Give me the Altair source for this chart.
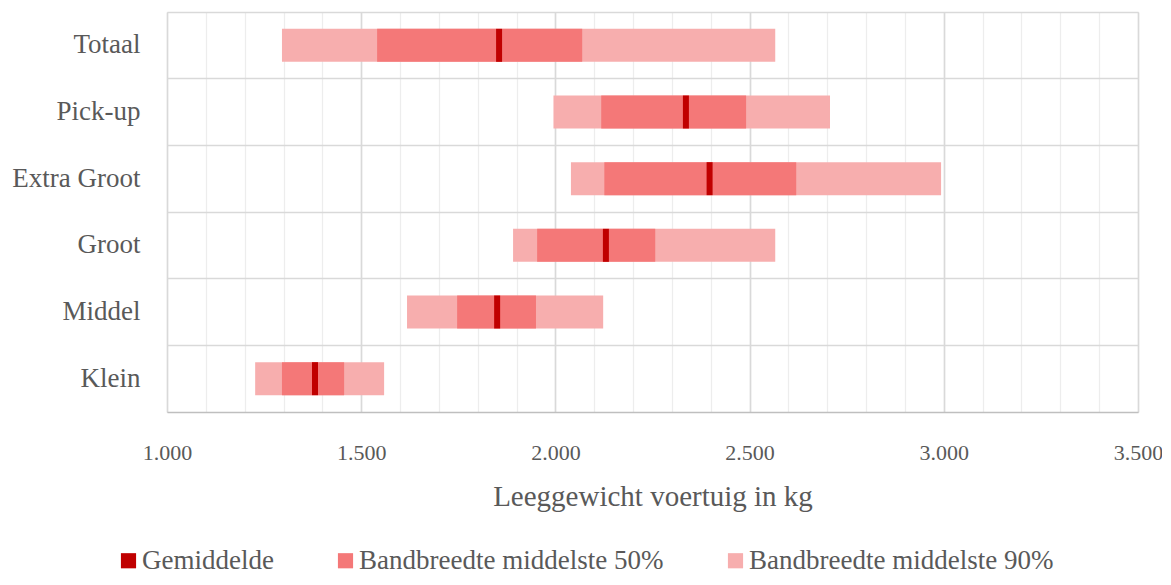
import altair as alt
import pandas as pd

categories = ["Totaal", "Pick-up", "Extra Groot", "Groot", "Middel", "Klein"]
low90 = [1296, 1995, 2040, 1891, 1618, 1227]
high90 = [2566, 2707, 2993, 2566, 2123, 1559]
low50 = [1541, 2118, 2126, 1953, 1747, 1296]
high50 = [2069, 2491, 2620, 2257, 1950, 1456]
mean = [1855, 2336, 2397, 2130, 1850, 1381]

series_names = ["Gemiddelde", "Bandbreedte middelste 50%", "Bandbreedte middelste 90%"]
series_colors = ["#C00000", "#F47878", "#F7AEAE"]
major_ticks = [1000, 1500, 2000, 2500, 3000, 3500]
minor_ticks = list(range(1000, 3600, 100))

df = pd.DataFrame({
    "cat": categories, "low90": low90, "high90": high90,
    "low50": low50, "high50": high50, "mean": mean,
})

FONT = "Liberation Serif"
TXT = "#595959"

xscale = alt.Scale(domain=[1000, 3500], nice=False, zero=False)
color_scale = alt.Scale(domain=series_names, range=series_colors)
legend = alt.Legend(
    title=None, orient="none", direction="horizontal", legendX=-52, legendY=535,
    symbolType="square", symbolSize=230, labelFontSize=27, labelFont=FONT,
    labelColor=TXT, columnPadding=58, labelOffset=0, symbolStrokeWidth=0,
    labelLimit=400,
)

yenc = alt.Y("cat:N", sort=categories, scale=alt.Scale(paddingInner=0, paddingOuter=0),
             axis=alt.Axis(title=None, grid=True, bandPosition=0, gridColor="#D9D9D9",
                           gridWidth=1.5, domain=False, ticks=False, labelFontSize=27,
                           labelFont=FONT, labelColor=TXT, labelPadding=27))

base = alt.Chart(df)

bar90 = base.transform_calculate(series="'Bandbreedte middelste 90%'").mark_bar(size=33).encode(
    y=yenc,
    x=alt.X("low90:Q", scale=xscale,
            axis=alt.Axis(values=minor_ticks, orient="bottom", grid=True, gridColor="#EDEDED",
                          gridWidth=1.3, labels=False, ticks=False, domain=False, title="")),
    x2="high90:Q",
    color=alt.Color("series:N", scale=color_scale, legend=legend),
)

bar50 = base.transform_calculate(series="'Bandbreedte middelste 50%'").mark_bar(size=33).encode(
    y=yenc,
    x=alt.X("low50:Q", scale=xscale,
            axis=alt.Axis(values=major_ticks, orient="bottom", grid=True, gridColor="#D9D9D9",
                          gridWidth=1.6, domain=True, domainColor="#BFBFBF", domainWidth=1.5,
                          ticks=False, format=",.0f", labelFontSize=22, labelFont=FONT,
                          labelColor=TXT, labelPadding=30, labelFlush=False,
                          title="Leeggewicht voertuig in kg",
                          titleFontSize=29, titleFont=FONT, titleColor=TXT,
                          titleFontWeight="normal", titlePadding=19)),
    x2="high50:Q",
    color=alt.Color("series:N", scale=color_scale, legend=legend),
)

tick = base.transform_calculate(series="'Gemiddelde'").mark_tick(thickness=6, size=33, opacity=1).encode(
    y=yenc,
    x=alt.X("mean:Q", scale=xscale, axis=None),
    color=alt.Color("series:N", scale=color_scale, legend=legend),
)

chart = alt.layer(bar90, bar50, tick).resolve_axis(x="independent").properties(
    width=971, height=400,
    autosize=alt.AutoSizeParams(type="none"),
    padding={"left": 159, "top": 4, "right": 24, "bottom": 164},
).configure_view(stroke=None).configure(
    locale={"number": {"decimal": ",", "thousands": ".", "grouping": [3], "currency": ["€", ""]}}
)

chart.save("out.html", embed_options={"renderer": "svg", "actions": False})
